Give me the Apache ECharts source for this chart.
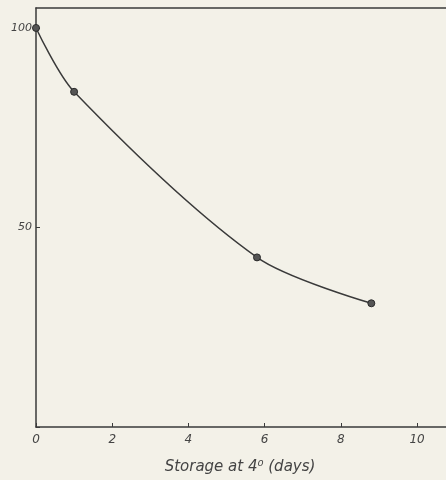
<!DOCTYPE html>
<html><head><meta charset="utf-8">
<script src="https://cdn.jsdelivr.net/npm/echarts@6/dist/echarts.min.js"></script>
<style>html,body{margin:0;padding:0;background:#f3f1e8;}#c{width:446px;height:480px;}</style>
</head><body><div id="c"></div>
<script>
var days = [0, 1, 5.8, 8.8];
var values = [100, 84, 42.5, 31];
var xTicks = [0, 2, 4, 6, 8, 10];
var yTicks = [50, 100];

var data = days.map(function (d, i) { return [d, values[i]]; });
var chart = echarts.init(document.getElementById('c'));
var lineCol = '#3a3a3a';
chart.setOption({
  backgroundColor: '#f3f1e8',
  animation: false,
  grid: { left: 36, right: 0, top: 8, bottom: 53 },
  xAxis: [{
    type: 'value', min: 0, max: 10.76, interval: 2,
    axisLine: { lineStyle: { color: lineCol, width: 1.5 } },
    axisTick: { inside: true, length: 4, lineStyle: { color: lineCol } },
    splitLine: { show: false },
    axisLabel: {
      color: '#444', fontStyle: 'italic', fontSize: 12, fontFamily: 'DejaVu Sans', margin: 7,
      showMaxLabel: false,
      formatter: function (v) { return xTicks.indexOf(v) >= 0 ? String(v) : ''; }
    },
    name: 'Storage at 4\u2070 (days)', nameLocation: 'middle', nameGap: 33,
    nameTextStyle: { color: '#444', fontStyle: 'italic', fontSize: 15, fontFamily: 'DejaVu Sans', padding: [0, 0, 0, -2] }
  }, {
    type: 'value', position: 'top', min: 0, max: 10.76,
    axisLine: { show: true, lineStyle: { color: lineCol, width: 1.5 } },
    axisTick: { show: false }, axisLabel: { show: false }, splitLine: { show: false }
  }],
  yAxis: {
    type: 'value', min: 0, max: 105, interval: 50,
    axisLine: { show: true, lineStyle: { color: lineCol, width: 1.5 } },
    axisTick: { show: true, inside: true, length: 4, lineStyle: { color: lineCol } },
    splitLine: { show: false },
    axisLabel: {
      color: '#444', fontStyle: 'italic', fontSize: 11, fontFamily: 'DejaVu Sans', margin: 4,
      showMaxLabel: false,
      formatter: function (v) { return yTicks.indexOf(v) >= 0 ? String(v) : ''; }
    }
  },
  series: [{
    type: 'line', data: data, smooth: 0.3,
    lineStyle: { color: lineCol, width: 1.5 },
    symbol: 'circle', symbolSize: 7,
    itemStyle: { color: '#555', borderColor: '#2a2a2a', borderWidth: 1 }
  }]
});
</script></body></html>
